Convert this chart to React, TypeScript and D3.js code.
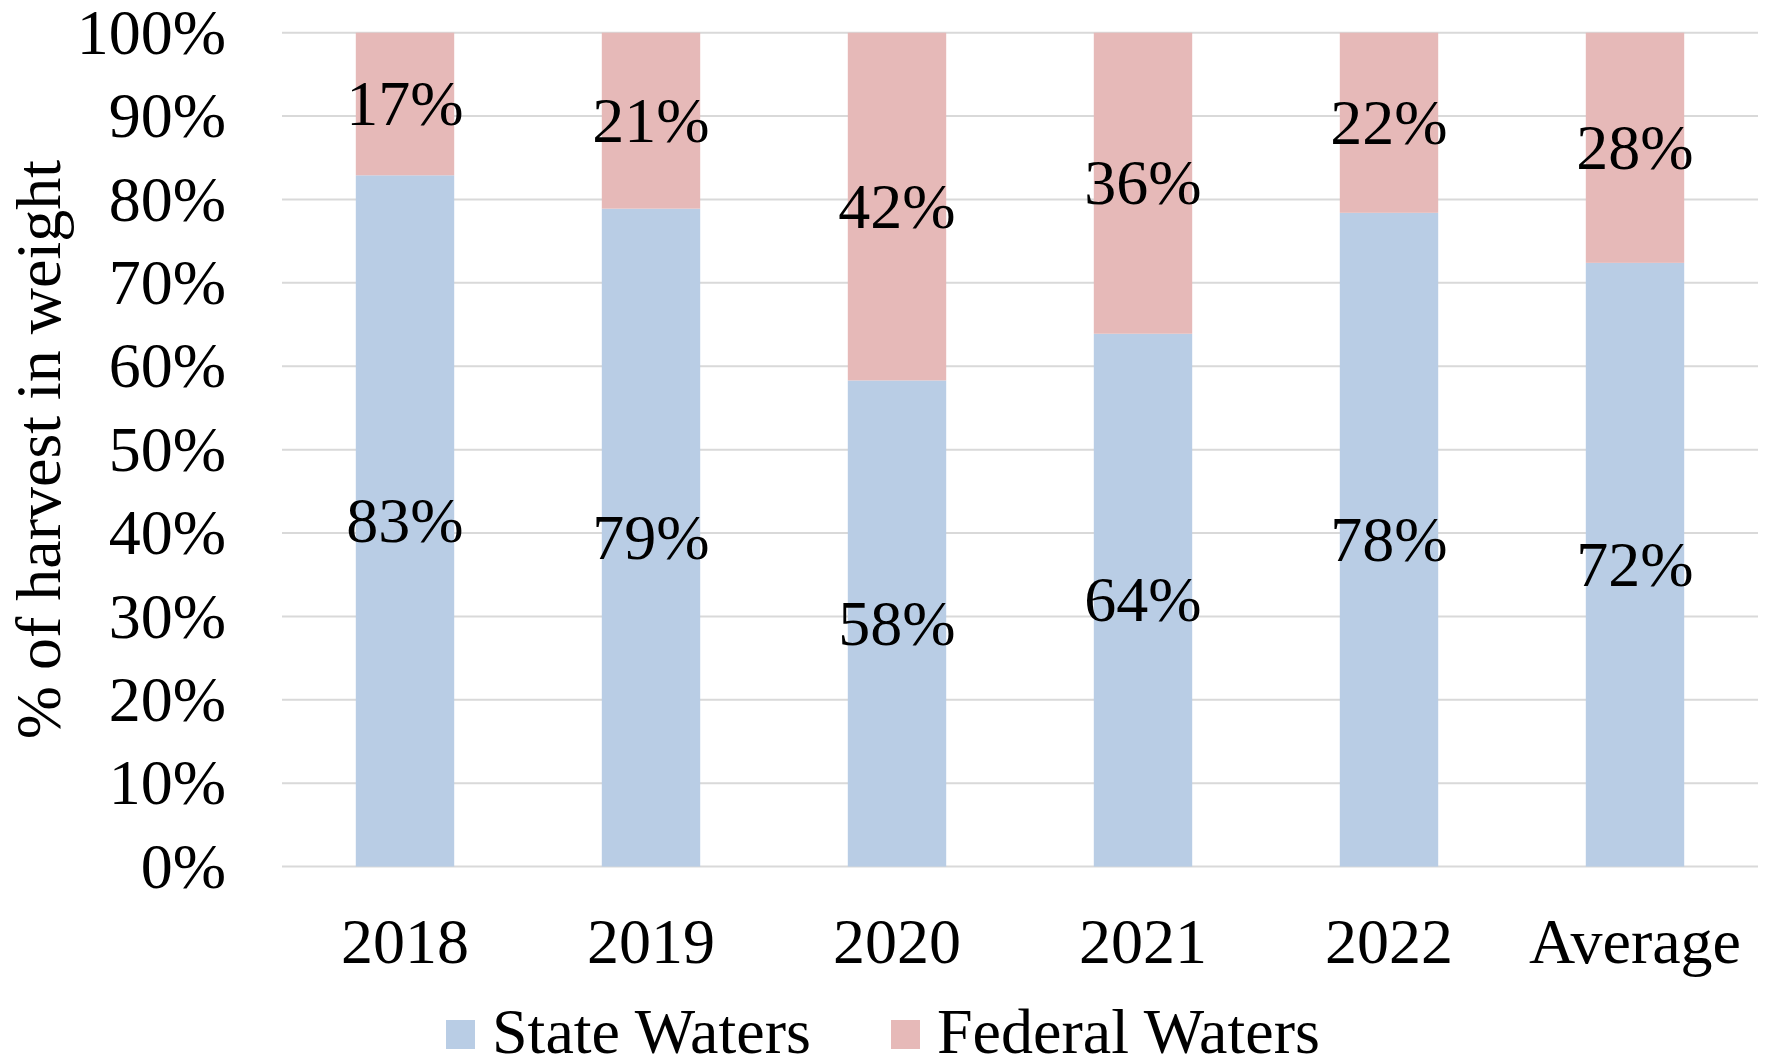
import React from "react";
import * as d3 from "d3";

const categories = ["2018", "2019", "2020", "2021", "2022", "Average"];
const stateWaters = [82.9, 78.9, 58.3, 63.9, 78.4, 72.4];
const federalWaters = [17.1, 21.1, 41.7, 36.1, 21.6, 27.6];
const yTicks = [0, 10, 20, 30, 40, 50, 60, 70, 80, 90, 100];
const seriesNames = ["State Waters", "Federal Waters"];
const seriesColors = ["#B9CDE5", "#E6B9B8"];

const W = 1767;
const H = 1059;
const FONT = "'Liberation Serif', 'Times New Roman', serif";
const FS = 64;

export default function App() {
  const left = 282;
  const right = 1758;
  const top = 32.7;
  const bottom = 866.6;

  const x = d3.scaleBand<string>().domain(categories).range([left, right]).paddingInner(0.6).paddingOuter(0.3);
  const y = d3.scaleLinear().domain([0, 100]).range([bottom, top]);

  const stackData = categories.map((c, i) => ({ cat: c, s0: stateWaters[i], s1: federalWaters[i] }));
  const stack = d3.stack<any>().keys(["s0", "s1"]);
  const layers = stack(stackData);

  return (
    <svg width={W} height={H} style={{ position: "absolute", left: 0, top: 0, background: "#fff" }} fontFamily={FONT}>
      <rect x={0} y={0} width={W} height={H} fill="#fff" />
      {yTicks.map((t) => (
        <line key={t} x1={left} x2={right} y1={y(t)} y2={y(t)} stroke="#D9D9D9" strokeWidth={2} />
      ))}
      {layers.map((layer, li) =>
        layer.map((d, i) => (
          <rect
            key={`${li}-${i}`}
            x={x(categories[i])!}
            width={x.bandwidth()}
            y={y(d[1])}
            height={y(d[0]) - y(d[1])}
            fill={seriesColors[li]}
          />
        ))
      )}
      {layers.map((layer, li) =>
        layer.map((d, i) => (
          <text
            key={`l${li}-${i}`}
            x={x(categories[i])! + x.bandwidth() / 2}
            y={y((d[0] + d[1]) / 2)}
            dy="0.33em"
            textAnchor="middle"
            fontSize={FS}
            fill="#000"
          >
            {Math.round(d[1] - d[0])}%
          </text>
        ))
      )}
      {yTicks.map((t) => (
        <text key={`yt${t}`} x={226} y={y(t)} dy="0.33em" textAnchor="end" fontSize={FS} fill="#000">
          {t}%
        </text>
      ))}
      {categories.map((c) => (
        <text key={`xt${c}`} x={x(c)! + x.bandwidth() / 2} y={963} textAnchor="middle" fontSize={FS} fill="#000">
          {c}
        </text>
      ))}
      <text
        transform={`translate(${60},${(top + bottom) / 2}) rotate(-90)`}
        textAnchor="middle"
        fontSize={FS}
        fill="#000"
      >
        % of harvest in weight
      </text>
      {seriesNames.map((n, i) => {
        const lx = i === 0 ? 446 : 891;
        return (
          <g key={n}>
            <rect x={lx} y={1020} width={29} height={29} fill={seriesColors[i]} />
            <text x={lx + 46} y={1053} fontSize={FS} fill="#000">
              {n}
            </text>
          </g>
        );
      })}
    </svg>
  );
}
